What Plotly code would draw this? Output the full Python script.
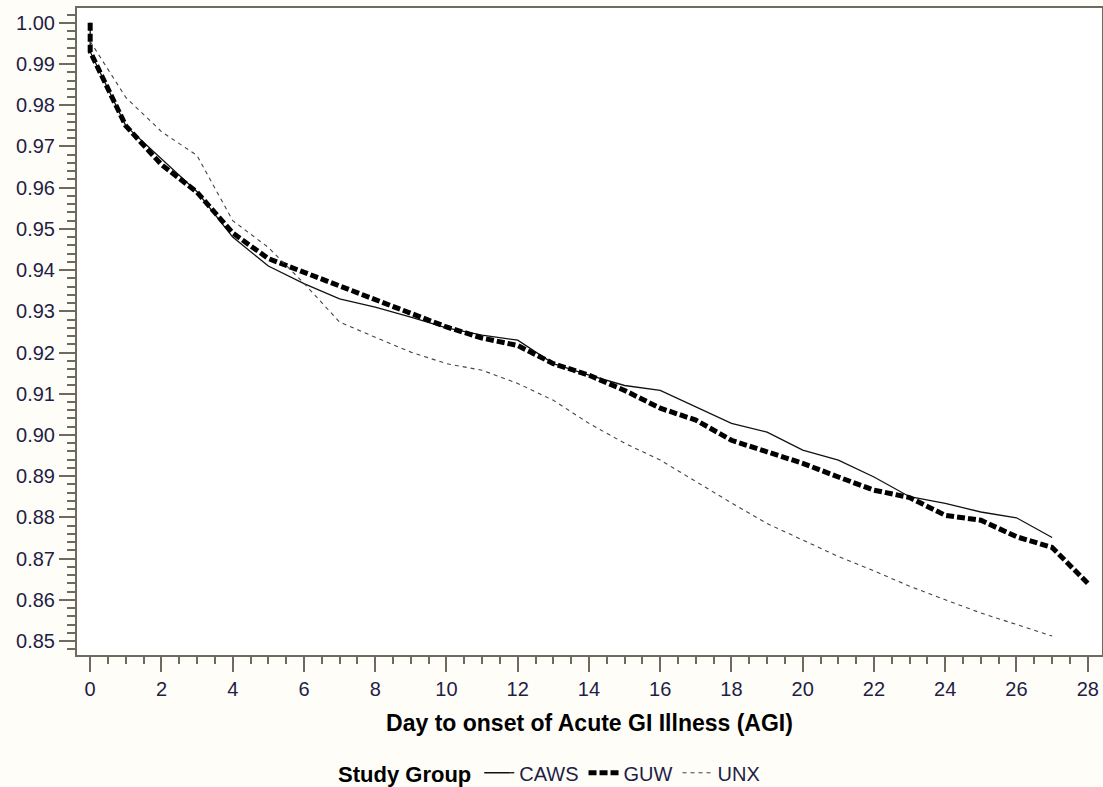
import plotly.graph_objects as go

days = [0, 0, 1, 2, 3, 4, 5, 6, 7, 8, 9, 10, 11, 12, 13, 14, 15, 16, 17, 18, 19, 20, 21, 22, 23, 24, 25, 26, 27, 28]

caws = [1.000, 0.993, 0.975, 0.967, 0.959, 0.948, 0.941, 0.9367, 0.933, 0.931, 0.9286, 0.926, 0.9242, 0.923, 0.9173,
        0.9145, 0.912, 0.9108, 0.9068, 0.9028, 0.9007, 0.8963, 0.8939, 0.8898, 0.885, 0.8834, 0.8813, 0.8799, 0.8751, None]
guw = [1.000, 0.993, 0.975, 0.9656, 0.9589, 0.949, 0.9428, 0.9395, 0.9359, 0.9326, 0.9294, 0.9262, 0.9235, 0.9217, 0.9173,
       0.9145, 0.9108, 0.9065, 0.9036, 0.8987, 0.8959, 0.8931, 0.8898, 0.8866, 0.8848, 0.8805, 0.8793, 0.8753, 0.8727, 0.864]
unx = [None, 0.9955, 0.9819, 0.9736, 0.9678, 0.952, 0.9455, 0.9368, 0.9274, 0.9237, 0.9201, 0.9173, 0.9157, 0.9125, 0.9084,
       0.9028, 0.898, 0.8939, 0.8886, 0.8835, 0.8785, 0.8745, 0.8705, 0.867, 0.8633, 0.860, 0.8568, 0.854, 0.8512, None]

series_names = ["CAWS", "GUW", "UNX"]

x_ticks = list(range(0, 29, 2))
y_ticks = [round(0.85 + 0.01 * i, 2) for i in range(16)]

bg = "#FFFDF8"
axis_col = "#6E6A5E"
tick_font_col = "#1E1E46"

fig = go.Figure()
fig.add_trace(go.Scatter(x=days, y=caws, name=series_names[0], mode="lines",
                         line=dict(color="#111111", width=1.3), connectgaps=False))
fig.add_trace(go.Scatter(x=days, y=guw, name=series_names[1], mode="lines",
                         line=dict(color="#000000", width=5, dash="8px,3px"), connectgaps=False))
fig.add_trace(go.Scatter(x=days, y=unx, name=series_names[2], mode="lines",
                         line=dict(color="#444444", width=1.1, dash="4px,4px"), connectgaps=False))

fig.update_layout(
    width=1103, height=787,
    paper_bgcolor=bg, plot_bgcolor="#FFFFFF",
    margin=dict(l=77, r=1, t=8, b=132, autoexpand=False),
    font=dict(family="Liberation Sans, Arial, sans-serif", size=20, color=tick_font_col),
    showlegend=True,
    legend=dict(orientation="h", x=0.462, xanchor="center", y=-0.182, yanchor="middle",
                title=dict(text="<b>Study Group</b>", font=dict(color="#000000", size=22)),
                font=dict(size=20, color=tick_font_col), itemwidth=30,
                bgcolor="rgba(0,0,0,0)"),
)

fig.update_xaxes(
    range=[-0.37, 28.4], tickvals=x_ticks, ticktext=[str(v) for v in x_ticks],
    showline=True, linecolor=axis_col, linewidth=2, mirror=True,
    ticks="outside", ticklen=15, tickwidth=2, tickcolor=axis_col,
    minor=dict(dtick=0.5, tick0=0, ticks="outside", ticklen=7, tickwidth=1.5, tickcolor=axis_col, showgrid=False),
    showgrid=False, zeroline=False, automargin=False,
    tickfont=dict(size=20, color=tick_font_col),
    title=dict(text="<b>Day to onset of Acute GI Illness (AGI)</b>", font=dict(size=23, color="#000000"), standoff=16),
)
fig.update_yaxes(
    range=[0.8466, 1.0036], tickvals=y_ticks, ticktext=[f"{v:.2f}" for v in y_ticks],
    showline=True, linecolor=axis_col, linewidth=2, mirror=True,
    ticks="outside", ticklen=16, tickwidth=2, tickcolor=axis_col,
    minor=dict(dtick=0.002, tick0=0.85, ticks="outside", ticklen=8, tickwidth=1.5, tickcolor=axis_col, showgrid=False),
    showgrid=False, zeroline=False, automargin=False,
    tickfont=dict(size=20, color=tick_font_col),
)

fig.write_html("out.html", config={"displayModeBar": False},
               post_script="document.body.style.margin='0';document.body.style.padding='0';document.body.style.overflow='hidden';")
